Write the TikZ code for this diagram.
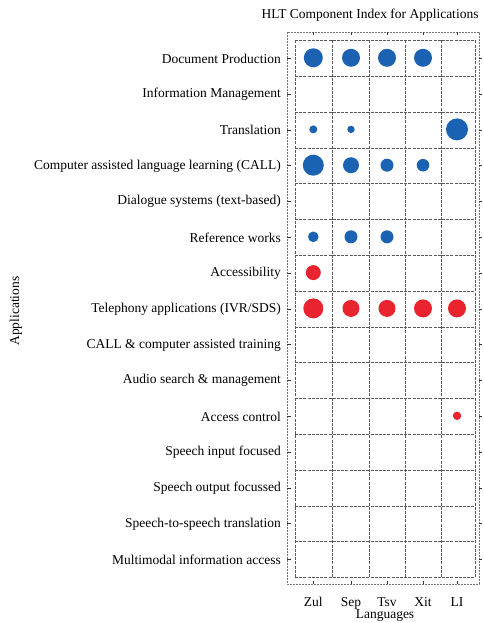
\documentclass[tikz,border=0pt]{standalone}
\usepackage{fontspec}
\setmainfont{Liberation Serif}
\definecolor{dotblue}{RGB}{28,98,178}
\definecolor{dotred}{RGB}{234,36,46}
\begin{document}
\begin{tikzpicture}[x=1pt,y=-1pt,
  rowlabel/.style={anchor=east, font=\fontsize{13.5}{15}\selectfont, inner sep=0pt},
  collabel/.style={anchor=base, font=\fontsize{13.5}{15}\selectfont, inner sep=0pt},
  titlelabel/.style={font=\fontsize{13.5}{15}\selectfont, inner sep=0pt},
  gridline/.style={black!65, line width=0.6pt, dash pattern=on 3pt off 1.2pt},
  frameline/.style={black!55, line width=0.5pt, dash pattern=on 2pt off 1pt},
  tickline/.style={black!80, line width=0.7pt},
  blob/.style={circle, inner sep=0pt, draw=none},
]
\useasboundingbox (0,0) rectangle (483,623);
\fill[white] (0,0) rectangle (483,623);

% outer frame
\draw[frameline] (287,32) rectangle (479,584);
% grid
\foreach \x in {295,332.5,369,405.5,441,475}
  \draw[gridline] (\x,40.5) -- (\x,577.5);
\foreach \k in {0,...,15}
  \draw[gridline] (295,{40.5+35.8*\k}) -- (475,{40.5+35.8*\k});

% ticks
\foreach \k in {0,...,14} {
  \draw[tickline] (287,{58.4+35.8*\k}) -- (290.5,{58.4+35.8*\k});
  \draw[tickline] (479,{58.4+35.8*\k}) -- (482,{58.4+35.8*\k});
}
\foreach \x in {313.3,351,387,423,457} {
  \draw[tickline] (\x,584) -- (\x,580.5);
  \draw[tickline] (\x,32) -- (\x,35.5);
}

% title and axis labels
\node[titlelabel] (title) at (370,15) {HLT Component Index for Applications};
\node[collabel] (xlab) at (385,618.5) {Languages};
\node[titlelabel, rotate=90] (ylab) at (16,311) {Applications};

% column labels
\node[collabel] (zul) at (313.3,606) {Zul};
\node[collabel] (sep) at (351,606) {Sep};
\node[collabel] (tsv) at (387,606) {Tsv};
\node[collabel] (xit) at (423,606) {Xit};
\node[collabel] (li) at (457,606) {LI};

% row labels
\node[rowlabel] (r0) at (281,{58.4+35.8*0}) {Document Production};
\node[rowlabel] (r1) at (281,{58.4+35.8*1}) {Information Management};
\node[rowlabel] (r2) at (281,{58.4+35.8*2}) {Translation};
\node[rowlabel] (r3) at (281,{58.4+35.8*3}) {Computer assisted language learning (CALL)};
\node[rowlabel] (r4) at (281,{58.4+35.8*4}) {Dialogue systems (text-based)};
\node[rowlabel] (r5) at (281,{58.4+35.8*5}) {Reference works};
\node[rowlabel] (r6) at (281,{58.4+35.8*6}) {Accessibility};
\node[rowlabel] (r7) at (281,{58.4+35.8*7}) {Telephony applications (IVR/SDS)};
\node[rowlabel] (r8) at (281,{58.4+35.8*8}) {CALL \& computer assisted training};
\node[rowlabel] (r9) at (281,{58.4+35.8*9}) {Audio search \& management};
\node[rowlabel] (r10) at (281,{58.4+35.8*10}) {Access control};
\node[rowlabel] (r11) at (281,{58.4+35.8*11}) {Speech input focused};
\node[rowlabel] (r12) at (281,{58.4+35.8*12}) {Speech output focussed};
\node[rowlabel] (r13) at (281,{58.4+35.8*13}) {Speech-to-speech translation};
\node[rowlabel] (r14) at (281,{58.4+35.8*14}) {Multimodal information access};

% bubbles: column x / row index / diameter / colour
\foreach \cx/\ri/\dia/\col/\nm in {
  313.3/0/19/dotblue/a00, 351/0/18/dotblue/a01, 387/0/18/dotblue/a02, 423/0/18/dotblue/a03,
  313.3/2/8/dotblue/a20, 351/2/7.4/dotblue/a21, 457/2/22/dotblue/a24,
  313.3/3/21/dotblue/a30, 351/3/16/dotblue/a31, 387/3/13/dotblue/a32, 423/3/12.6/dotblue/a33,
  313.3/5/10.6/dotblue/a50, 351/5/13/dotblue/a51, 387/5/13/dotblue/a52,
  313.3/6/15/dotred/a60,
  313.3/7/20/dotred/a70, 351/7/17/dotred/a71, 387/7/17/dotred/a72, 423/7/18/dotred/a73, 457/7/18/dotred/a74,
  457/10/8.4/dotred/a104}
  \node[blob, fill=\col, minimum size=\dia pt] (\nm) at (\cx,{57.8+35.8*\ri}) {};
\end{tikzpicture}
\end{document}
